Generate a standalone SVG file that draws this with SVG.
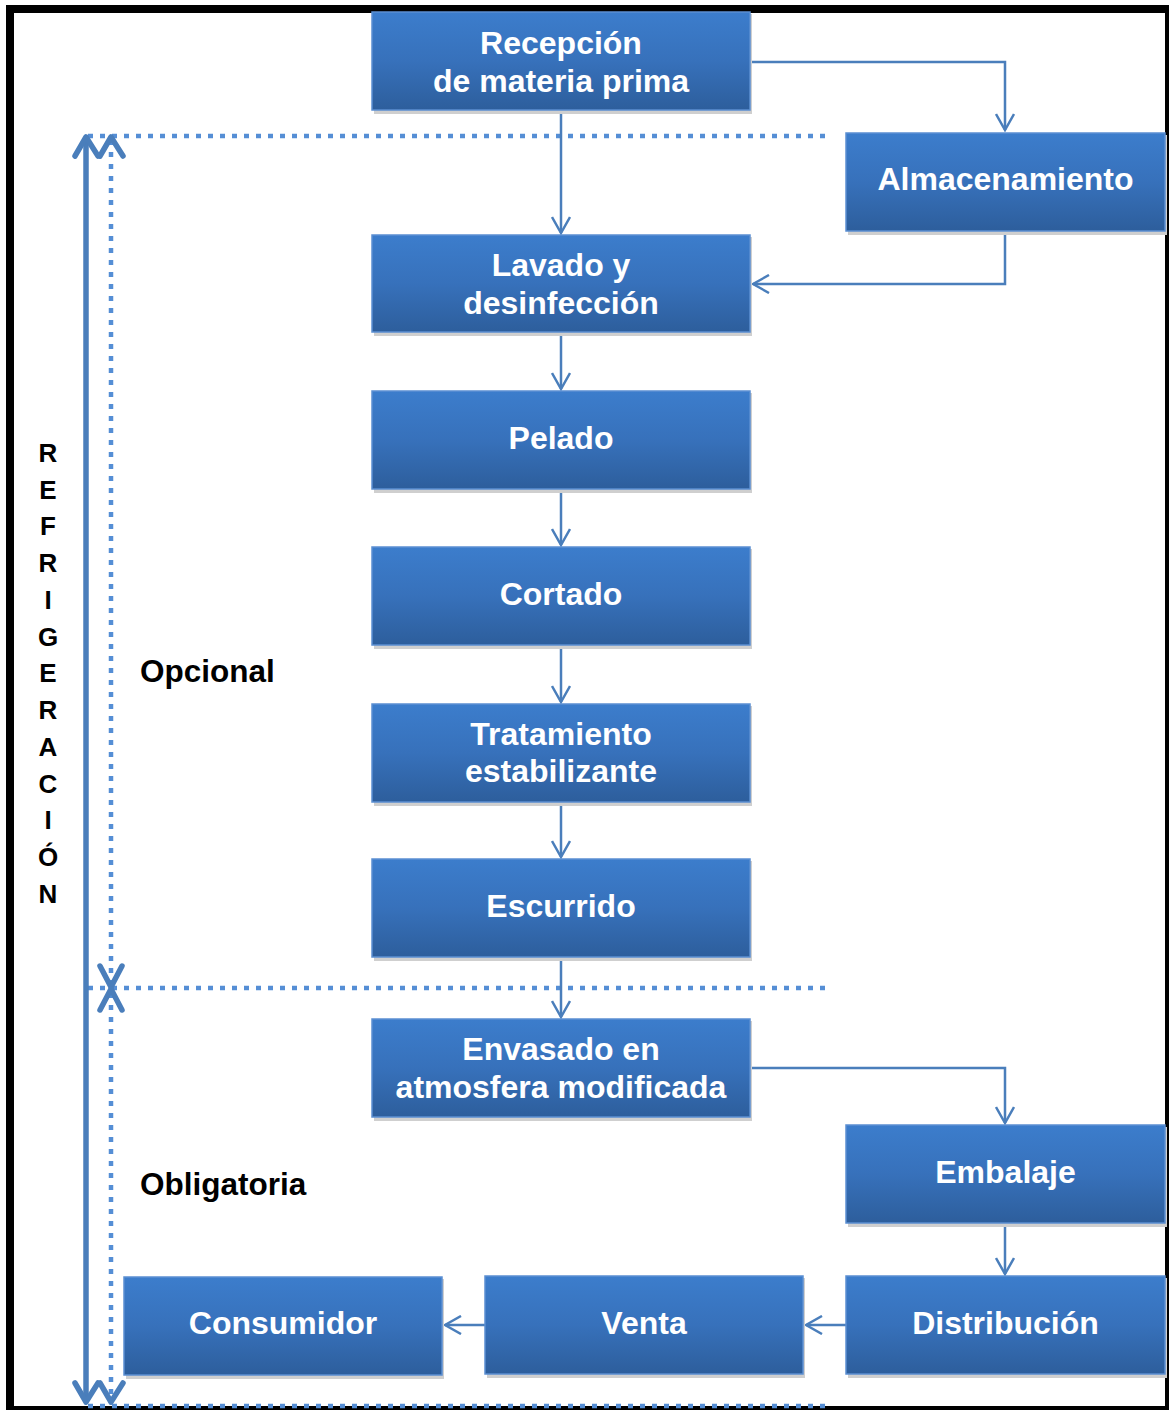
<svg xmlns="http://www.w3.org/2000/svg" width="1169" height="1410" viewBox="0 0 1169 1410">
<defs>
<linearGradient id="g" x1="0" y1="0" x2="0" y2="1">
<stop offset="0" stop-color="#3c7dcc"/>
<stop offset="0.5" stop-color="#3771bb"/>
<stop offset="1" stop-color="#2d5e9c"/>
</linearGradient>
<marker id="a" viewBox="0 0 20 20" refX="18" refY="10" markerWidth="20" markerHeight="20" markerUnits="userSpaceOnUse" orient="auto">
<path d="M2,1 L18,10 L2,19" fill="none" stroke="#4a7ebb" stroke-width="2.5"/>
</marker>
<style>
.box rect.b{fill:url(#g);stroke:#5b8fd2;stroke-width:1.5}
.box rect.s{fill:#cfcfcf}
.box text{fill:#fff;font-family:"Liberation Sans",Arial,sans-serif;font-weight:bold;font-size:32px;text-anchor:middle}
.c{fill:none;stroke:#4a7ebb;stroke-width:2.5;marker-end:url(#a)}
.dot{fill:none;stroke:#558ed5;stroke-width:4.5;stroke-dasharray:5 7}
.big{fill:none;stroke:#4a7ebb;stroke-width:5.5;stroke-linecap:round;stroke-linejoin:round}
.lbl{fill:#000;font-family:"Liberation Sans",Arial,sans-serif;font-weight:bold}
.v{text-anchor:middle}
</style>
</defs>
<rect x="0" y="0" width="1169" height="1410" fill="#fff"/>
<rect x="10" y="9" width="1159" height="1401" fill="none" stroke="#000" stroke-width="8"/>

<g id="refrigeracion">
<path class="dot" d="M88,136 H826"/>
<path class="dot" d="M88,988 H826"/>
<path class="dot" d="M88,1406 H826"/>
<path class="dot" d="M111,140 V984"/>
<path class="dot" d="M111,993 V1400"/>
<path d="M86,140 V1401" stroke="#4a7ebb" stroke-width="5.5" fill="none"/>
<path class="big" d="M75,156 L86,137 L98,156"/>
<path class="big" d="M100,156 L111,137 L123,156"/>
<path class="big" d="M75,1383 L86,1402 L98,1383"/>
<path class="big" d="M100,1383 L111,1402 L123,1383"/>
<path class="big" d="M100,966 L111,987 L122,966"/>
<path class="big" d="M100,1010 L111,989 L122,1010"/>
<text class="lbl v" font-size="26" x="48" y="462">R</text>
<text class="lbl v" font-size="26" x="48" y="499">E</text>
<text class="lbl v" font-size="26" x="48" y="535">F</text>
<text class="lbl v" font-size="26" x="48" y="572">R</text>
<text class="lbl v" font-size="26" x="48" y="609">I</text>
<text class="lbl v" font-size="26" x="48" y="646">G</text>
<text class="lbl v" font-size="26" x="48" y="682">E</text>
<text class="lbl v" font-size="26" x="48" y="719">R</text>
<text class="lbl v" font-size="26" x="48" y="756">A</text>
<text class="lbl v" font-size="26" x="48" y="793">C</text>
<text class="lbl v" font-size="26" x="48" y="829">I</text>
<text class="lbl v" font-size="26" x="48" y="866">Ó</text>
<text class="lbl v" font-size="26" x="48" y="903">N</text>
<text class="lbl" font-size="31.5" x="140" y="682">Opcional</text>
<text class="lbl" font-size="31.5" x="140" y="1195">Obligatoria</text>
</g>

<g id="connectors">
<path class="c" d="M750,62 H1005 V130"/>
<path class="c" d="M561,110 V233"/>
<path class="c" d="M1005,231 V284 H753"/>
<path class="c" d="M561,332 V389"/>
<path class="c" d="M561,489 V545"/>
<path class="c" d="M561,645 V702"/>
<path class="c" d="M561,802 V857"/>
<path class="c" d="M561,957 V1017"/>
<path class="c" d="M750,1068 H1005 V1123"/>
<path class="c" d="M1005,1222 V1274"/>
<path class="c" d="M846,1325 H806"/>
<path class="c" d="M485,1325 H445"/>
</g>

<g id="recepcion" class="box">
<rect class="s" x="374" y="14" width="378" height="100"/>
<rect class="b" x="372" y="12" width="378" height="98"/>
<text x="561" y="54">Recepción</text>
<text x="561" y="92">de materia prima</text>
</g>
<g id="almacenamiento" class="box">
<rect class="s" x="848" y="135" width="319" height="100"/>
<rect class="b" x="846" y="133" width="319" height="98"/>
<text x="1005.5" y="190">Almacenamiento</text>
</g>
<g id="lavado" class="box">
<rect class="s" x="374" y="237" width="378" height="99"/>
<rect class="b" x="372" y="235" width="378" height="97"/>
<text x="561" y="276">Lavado y</text>
<text x="561" y="314">desinfección</text>
</g>
<g id="pelado" class="box">
<rect class="s" x="374" y="393" width="378" height="100"/>
<rect class="b" x="372" y="391" width="378" height="98"/>
<text x="561" y="449">Pelado</text>
</g>
<g id="cortado" class="box">
<rect class="s" x="374" y="549" width="378" height="100"/>
<rect class="b" x="372" y="547" width="378" height="98"/>
<text x="561" y="605">Cortado</text>
</g>
<g id="tratamiento" class="box">
<rect class="s" x="374" y="706" width="378" height="100"/>
<rect class="b" x="372" y="704" width="378" height="98"/>
<text x="561" y="745">Tratamiento</text>
<text x="561" y="782">estabilizante</text>
</g>
<g id="escurrido" class="box">
<rect class="s" x="374" y="861" width="378" height="100"/>
<rect class="b" x="372" y="859" width="378" height="98"/>
<text x="561" y="917">Escurrido</text>
</g>
<g id="envasado" class="box">
<rect class="s" x="374" y="1021" width="378" height="100"/>
<rect class="b" x="372" y="1019" width="378" height="98"/>
<text x="561" y="1060">Envasado en</text>
<text x="561" y="1098">atmosfera modificada</text>
</g>
<g id="embalaje" class="box">
<rect class="s" x="848" y="1127" width="319" height="100"/>
<rect class="b" x="846" y="1125" width="319" height="98"/>
<text x="1005.5" y="1183">Embalaje</text>
</g>
<g id="distribucion" class="box">
<rect class="s" x="848" y="1278" width="319" height="100"/>
<rect class="b" x="846" y="1276" width="319" height="98"/>
<text x="1005.5" y="1334">Distribución</text>
</g>
<g id="venta" class="box">
<rect class="s" x="487" y="1278" width="318" height="100"/>
<rect class="b" x="485" y="1276" width="318" height="98"/>
<text x="644" y="1334">Venta</text>
</g>
<g id="consumidor" class="box">
<rect class="s" x="126" y="1279" width="318" height="100"/>
<rect class="b" x="124" y="1277" width="318" height="98"/>
<text x="283" y="1334">Consumidor</text>
</g>
</svg>
